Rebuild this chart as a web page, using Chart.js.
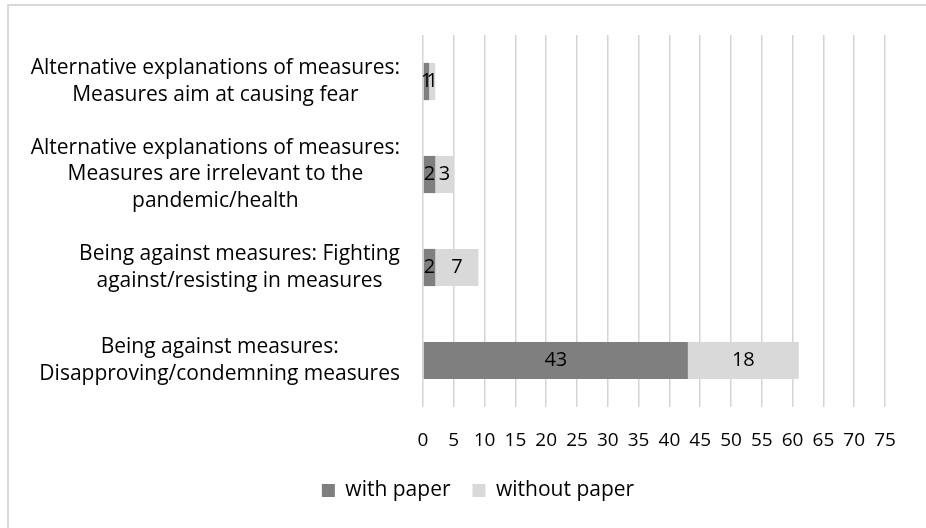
<!DOCTYPE html>
<html>
<head>
<meta charset="utf-8">
<script src="https://cdn.jsdelivr.net/npm/chart.js@4/dist/chart.umd.min.js"></script>
<style>
  html, body { margin: 0; padding: 0; background: #fff; overflow: hidden; }
  #frame { position: absolute; left: 7px; top: 4px; width: 1000px; height: 700px;
           border-left: 2px solid #d9d9d9; border-top: 2px solid #d9d9d9; }
  #chart { position: absolute; left: 0; top: 0; }
</style>
</head>
<body>
<div id="frame"></div>
<canvas id="chart" width="926" height="528"></canvas>
<script>
// categories, top to bottom (each entry = lines of the label)
const categories = [
  ['Alternative explanations of measures:', 'Measures aim at causing fear'],
  ['Alternative explanations of measures:', 'Measures are irrelevant to the', 'pandemic/health'],
  ['Being against measures: Fighting', 'against/resisting in measures'],
  ['Being against measures:', 'Disapproving/condemning measures']
];
const seriesNames = ['with paper', 'without paper'];
const withPaper = [1, 2, 2, 43];
const withoutPaper = [1, 3, 7, 18];
const axisMin = 0;
const axisMax = 75;
const axisStep = 5;

const FONT = '"Open Sans", sans-serif';
const TEXT_SIZE = 21;   // category + legend text
const NUM_SIZE = 19;    // axis ticks
const VALUE_SIZE = 20;  // numbers inside the bars
Chart.defaults.font.family = FONT;
Chart.defaults.font.size = NUM_SIZE;
Chart.defaults.color = '#000';

// value labels centred inside each stacked segment
const segmentLabels = {
  id: 'segmentLabels',
  afterDatasetsDraw(chart) {
    const ctx = chart.ctx;
    ctx.save();
    ctx.font = VALUE_SIZE + 'px ' + FONT;
    ctx.fillStyle = '#000';
    ctx.textAlign = 'center';
    ctx.textBaseline = 'middle';
    chart.data.datasets.forEach((ds, i) => {
      chart.getDatasetMeta(i).data.forEach((bar, j) => {
        const v = ds.data[j];
        if (!v) return;
        const p = bar.getProps(['x', 'y', 'base'], true);
        ctx.fillText(String(v), (p.x + p.base) / 2, p.y);
      });
    });
    ctx.restore();
  }
};

// category labels: block right-aligned to the axis, lines centred inside the block
const categoryLabels = {
  id: 'categoryLabels',
  afterDraw(chart) {
    const ctx = chart.ctx;
    const y = chart.scales.y;
    const right = y.right - 23;
    const lineH = 26.5;
    ctx.save();
    ctx.font = TEXT_SIZE + 'px ' + FONT;
    ctx.fillStyle = '#000';
    ctx.textAlign = 'center';
    ctx.textBaseline = 'middle';
    chart.data.labels.forEach((lines, i) => {
      const cy = y.getPixelForValue(i);
      const w = Math.max(...lines.map(l => ctx.measureText(l).width));
      const cx = right - w / 2;
      lines.forEach((l, k) => {
        ctx.fillText(l, cx, cy + (k - (lines.length - 1) / 2) * lineH);
      });
    });
    ctx.restore();
  }
};

new Chart(document.getElementById('chart'), {
  type: 'bar',
  data: {
    labels: categories,
    datasets: [
      { label: seriesNames[0], data: withPaper, backgroundColor: '#7f7f7f' },
      { label: seriesNames[1], data: withoutPaper, backgroundColor: '#d9d9d9' }
    ]
  },
  options: {
    indexAxis: 'y',
    responsive: false,
    animation: false,
    events: [],
    categoryPercentage: 0.5,
    barPercentage: 0.8,
    layout: { padding: { top: 35, left: 71, right: 41, bottom: 17 } },
    scales: {
      x: {
        stacked: true,
        min: axisMin,
        max: axisMax,
        ticks: { stepSize: axisStep, padding: 22, color: '#000', maxRotation: 0, autoSkip: false },
        grid: { color: '#d4d4d4', lineWidth: 1.5, drawTicks: false },
        border: { display: false },
        afterFit(scale) { scale.height = 51; }
      },
      y: {
        stacked: true,
        ticks: { display: false },
        grid: { display: false },
        border: { display: false },
        afterFit(scale) { scale.width = 352; }
      }
    },
    plugins: {
      legend: {
        position: 'bottom',
        labels: { boxWidth: 13, boxHeight: 13, padding: 22, color: '#000', font: { size: TEXT_SIZE } }
      },
      tooltip: { enabled: false }
    }
  },
  plugins: [segmentLabels, categoryLabels]
});
</script>
</body>
</html>
